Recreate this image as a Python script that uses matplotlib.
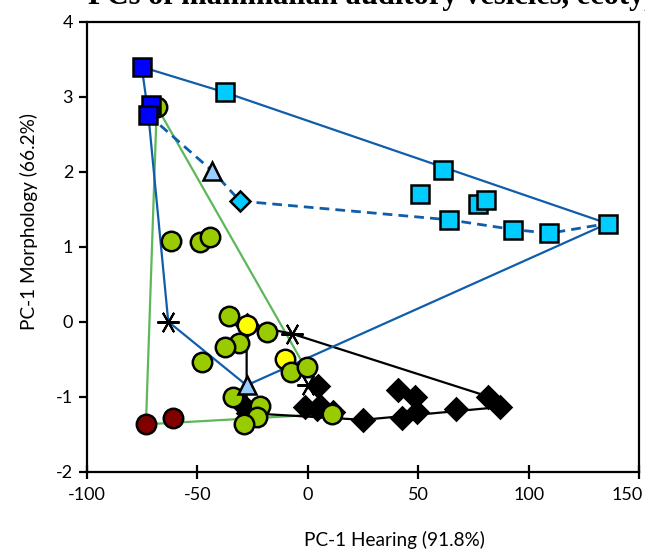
import matplotlib
matplotlib.use("Agg")
import matplotlib.pyplot as plt
from matplotlib.transforms import ScaledTranslation

plt.rcParams['font.family'] = ['Lato', 'DejaVu Sans']
plt.rcParams['axes.unicode_minus'] = False

# --- PCA scores (PC-1 hearing, PC-1 morphology) by group ---
blue_sq_x = [-75.2, -71.2, -72.2]
blue_sq_y = [3.40, 2.89, 2.76]

cyan_sq_x = [-37.5, 61.4, 50.8, 77.2, 80.7, 63.9, 93.1, 109.4, 135.8]
cyan_sq_y = [3.06, 2.03, 1.70, 1.57, 1.62, 1.36, 1.23, 1.18, 1.31]

cyan_dia_x = [-30.7]
cyan_dia_y = [1.61]

tri_x = [-43.2, -27.7]
tri_y = [2.01, -0.85]

star_x = [-63.2, -7.3, 0.1]
star_y = [0.00, -0.16, -0.85]

black_x = [-27.7, 4.8, -1.3, 5.5, 4.0, 11.5, 25.1, 41.0, 48.6, 42.5, 49.3, 67.0, 81.8, 87.0, -29.0, -27.0]
black_y = [-0.04, -0.86, -1.14, -1.12, -1.17, -1.20, -1.31, -0.91, -1.00, -1.29, -1.20, -1.16, -1.00, -1.14, -1.12, -1.22]

green_x = [-68.4, -62.0, -48.8, -44.3, -35.6, -18.3, -31.0, -37.4, -47.8, -7.7, -0.5,
           -33.7, -21.6, -23.1, -28.8, 10.8]
green_y = [2.87, 1.08, 1.06, 1.13, 0.08, -0.14, -0.28, -0.34, -0.54, -0.67, -0.61,
           -1.00, -1.13, -1.27, -1.36, -1.23]

yellow_x = [-27.7, -10.3]
yellow_y = [-0.04, -0.50]

red_x = [-73.3, -60.9]
red_y = [-1.37, -1.28]

# hull outlines
blue_hull_x = [-75.2, -37.5, 135.8, -27.7, -63.2, -72.2, -75.2]
blue_hull_y = [3.40, 3.06, 1.31, -0.85, 0.00, 2.76, 3.40]

dash_x = [-72.2, -43.2, -30.7, 63.9, 93.1, 109.4, 135.8]
dash_y = [2.76, 2.01, 1.61, 1.36, 1.23, 1.18, 1.31]

green_hull_x = [-68.4, -73.3, 10.8, -68.4]
green_hull_y = [2.87, -1.37, -1.23, 2.87]

black_hull_x = [-27.7, -7.3, 81.8, 87.0, 25.1, -27.7, -27.7]
black_hull_y = [-0.04, -0.16, -1.00, -1.14, -1.31, -1.22, -0.04]

x_ticks = [-100, -50, 0, 50, 100, 150]
y_ticks = [-2, -1, 0, 1, 2, 3, 4]

fig = plt.figure(figsize=(6.45, 5.54), dpi=100)
ax = fig.add_axes([87 / 645, 1 - 471.5 / 554, (639 - 87) / 645, (471.5 - 22) / 554])

blue_line = '#105DAA'
green_line = '#5CB85A'
lw = 1.6

ax.plot(green_hull_x, green_hull_y, color=green_line, lw=lw, zorder=2)
ax.plot(black_hull_x, black_hull_y, color='black', lw=lw, zorder=2)
ax.plot(blue_hull_x, blue_hull_y, color=blue_line, lw=lw, zorder=2)
ax.plot(dash_x, dash_y, color=blue_line, lw=2.0, ls=(0, (3.5, 2.2)), zorder=2)

mew = 1.8
ax.plot(star_x, star_y, ls='none', marker=(6, 2, 90), ms=16, mec='black', mew=1.5, zorder=3)
ax.plot(black_x, black_y, ls='none', marker='D', ms=11.5, mfc='black', mec='black', mew=mew, zorder=3)
ax.plot(green_x[:1], green_y[:1], ls='none', marker='o', ms=14, mfc='#99CC00', mec='black', mew=mew, zorder=4)
ax.plot(green_x[1:], green_y[1:], ls='none', marker='o', ms=14, mfc='#99CC00', mec='black', mew=mew, zorder=5)
ax.plot(yellow_x, yellow_y, ls='none', marker='o', ms=14, mfc='#FFFF00', mec='black', mew=mew, zorder=4.5)
ax.plot(red_x, red_y, ls='none', marker='o', ms=14, mfc='#800000', mec='black', mew=mew, zorder=5)
ax.plot(tri_x, tri_y, ls='none', marker='^', ms=13.5, mfc='#99CCFF', mec='black', mew=mew, zorder=6)
ax.plot(cyan_dia_x, cyan_dia_y, ls='none', marker='D', ms=10, mfc='#00CCFF', mec='black', mew=mew, zorder=6)
ax.plot(cyan_sq_x, cyan_sq_y, ls='none', marker='s', ms=13, mfc='#00CCFF', mec='black', mew=mew, zorder=6)
ax.plot(blue_sq_x, blue_sq_y, ls='none', marker='s', ms=13, mfc='#0000FF', mec='black', mew=mew, zorder=6)

ax.set_xlim(-100, 150)
ax.set_ylim(-2, 4)
ax.set_xticks(x_ticks)
ax.set_yticks(y_ticks)
for s in ax.spines.values():
    s.set_linewidth(1.6)
ax.tick_params(axis='x', direction='inout', length=10, width=1.6, labelsize=13, pad=6)
ax.tick_params(axis='y', direction='out', length=6, width=1.6, labelsize=13, pad=4)

# keep the last x tick label inside the figure edge
last = ax.get_xticklabels()[-1]
last.set_horizontalalignment('right')
last.set_transform(last.get_transform() + ScaledTranslation(4 / 100, 0, fig.dpi_scale_trans))

ax.set_xlabel('PC-1 Hearing (91.8%)', fontsize=13.7)
ax.xaxis.set_label_coords((394 - 87) / 552, -(531 - 471.5) / 449.5)
ax.set_ylabel('PC-1 Morphology (66.2%)', fontsize=13.7)
ax.yaxis.set_label_coords(-(87 - 38) / 552, (471.5 - 222) / 449.5)

fig.text(88 / 645, 1 - 4 / 554, 'PCs of mammalian auditory vesicles, ecotypes and',
         family='Liberation Serif', fontweight='bold', fontsize=22, ha='left', va='baseline')

fig.savefig('out.png', dpi=100)
